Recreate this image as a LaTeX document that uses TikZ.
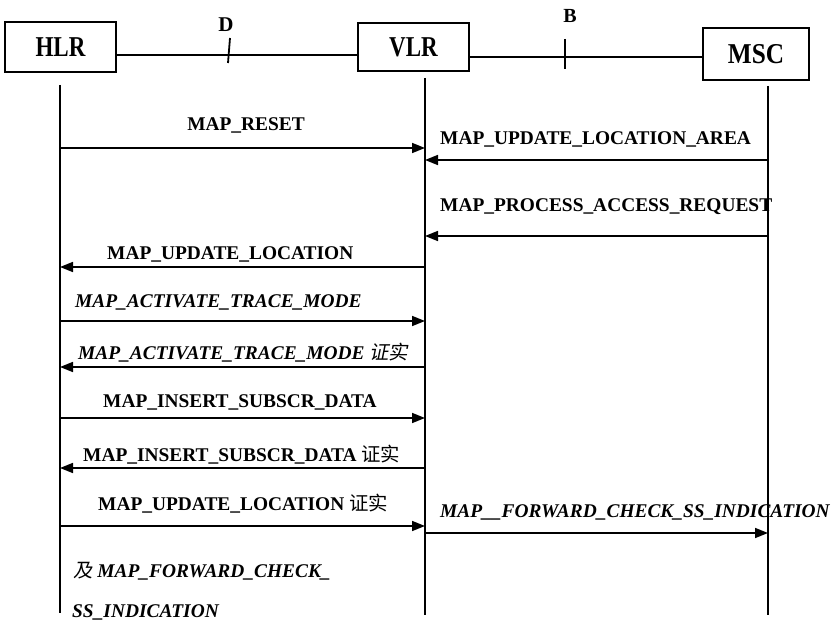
\documentclass[tikz,border=0pt]{standalone}
\usepackage{fontspec}
\setmainfont{Liberation Serif}
\newfontfamily\cjk{Noto Sans CJK SC}
\newfontfamily\cjkit[FakeSlant=0.2]{Noto Sans CJK SC}
\usetikzlibrary{arrows.meta, calc}

\tikzset{
  entity/.style={draw, line width=1.8pt, minimum width=111pt, minimum height=50pt,
    inner sep=0pt, font=\fontsize{23}{24}\selectfont\bfseries},
  lifeline/.style={line width=1.4pt},
  msg/.style={-{Triangle[length=13pt,width=10pt]}, line width=1.7pt},
  lbl/.style={inner sep=0pt, font=\fontsize{19.4}{23}\selectfont\bfseries},
  lblit/.style={lbl, font=\fontsize{19.4}{23}\selectfont\bfseries\itshape},
}

\begin{document}
\begin{tikzpicture}[x=1pt, y=-1pt]
        \useasboundingbox (0,0) rectangle (839,628);
        % Boxes
        \node[entity] (hlr) at (60.5,47) {\scalebox{1}[1.25]{HLR}};
        \node[entity, minimum height=48pt] (vlr) at (413.5,47) {\scalebox{1}[1.25]{VLR}};
        \node[entity, minimum width=106pt, minimum height=52pt] (msc) at (756,54) {\scalebox{1.1}[1.25]{MSC}};
        % Interfaces D and B
        \coordinate (dmark) at (229,55);
        \coordinate (bmark) at (565,57);
        \draw[line width=1.4pt] (hlr.east |- dmark) -- (vlr.west |- dmark);
        \draw[line width=1.4pt] (vlr.east |- bmark) -- (msc.west |- bmark);
        \draw[line width=1.8pt] ($(dmark)+(1,-17)$) -- ($(dmark)+(-1,8)$);
        \draw[line width=1.8pt] ($(bmark)+(0,-18)$) -- ($(bmark)+(0,12)$);
        \node[lbl, anchor=base, font=\fontsize{21}{24}\selectfont\bfseries] (dlabel) at (226,32) {D};
        \node[lbl, anchor=base, font=\fontsize{20}{24}\selectfont\bfseries] (blabel) at (570,23) {B};
        % Lifelines
        \coordinate (hlrTop) at (60,85);
        \coordinate (hlrBot) at (60,613);
        \coordinate (vlrTop) at (425,78);
        \coordinate (vlrBot) at (425,615);
        \coordinate (mscTop) at (768,86);
        \coordinate (mscBot) at (768,615);
        \draw[lifeline] (hlrTop) -- (hlrBot);
        \draw[lifeline] (vlrTop) -- (vlrBot);
        \draw[lifeline] (mscTop) -- (mscBot);
        % Message rows on the lifelines
        \foreach \row/\y in {1/148,2/160,3/236,4/267,5/321,6/367,7/418,8/468,9/526,10/533} {
          \coordinate (h\row) at (60,\y);
          \coordinate (v\row) at (425,\y);
          \coordinate (m\row) at (768,\y);
        }
        % Messages
        \draw[msg] (h1) -- (v1);
        \draw[msg] (m2) -- (v2);
        \draw[msg] (m3) -- (v3);
        \draw[msg] (v4) -- (h4);
        \draw[msg] (h5) -- (v5);
        \draw[msg] (v6) -- (h6);
        \draw[msg] (h7) -- (v7);
        \draw[msg] (v8) -- (h8);
        \draw[msg] (h9) -- (v9);
        \draw[msg] (v10) -- (m10);
        % Labels
        \node[lbl, anchor=base] (t1) at (246,131) {MAP\_RESET};
        \node[lbl, anchor=base west] (t2) at (440,145) {MAP\_UPDATE\_LOCATION\_AREA};
        \node[lbl, anchor=base west] (t3) at (440,212) {MAP\_PROCESS\_ACCESS\_REQUEST};
        \node[lbl, anchor=base west] (t4) at (107,260) {MAP\_UPDATE\_LOCATION};
        \node[lblit, anchor=base west] (t5) at (75,308) {MAP\_ACTIVATE\_TRACE\_MODE};
        \node[lblit, anchor=base west] (t6) at (78,360) {MAP\_ACTIVATE\_TRACE\_MODE {\cjkit\mdseries 证实}};
        \node[lbl, anchor=base west] (t7) at (103,408) {MAP\_INSERT\_SUBSCR\_DATA};
        \node[lbl, anchor=base west] (t8) at (83,462) {MAP\_INSERT\_SUBSCR\_DATA {\cjk\mdseries 证实}};
        \node[lbl, anchor=base west] (t9) at (98,511) {MAP\_UPDATE\_LOCATION {\cjk\mdseries 证实}};
        \node[lblit, anchor=base west] (t10) at (440,518) {MAP\_\_FORWARD\_CHECK\_SS\_INDICATION};
        \node[lblit, anchor=base west] (t11) at (73,577) {{\cjkit\mdseries 及} MAP\_FORWARD\_CHECK\_};
        \node[lblit, anchor=base west] (t12) at (72,617) {SS\_INDICATION};
\end{tikzpicture}
\end{document}
